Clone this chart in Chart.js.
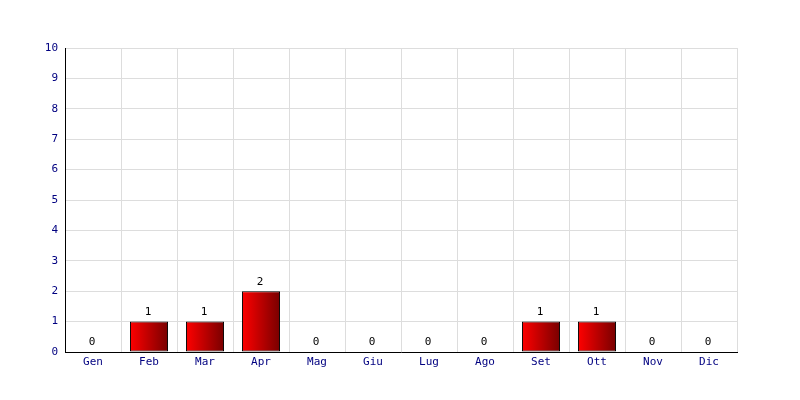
<!DOCTYPE html>
<html>
<head>
<meta charset="utf-8">
<script src="https://cdn.jsdelivr.net/npm/chart.js@4/dist/chart.umd.min.js"></script>
<style>
  html, body { margin: 0; padding: 0; background: #fff; }
  #wrap { width: 800px; height: 400px; }
</style>
</head>
<body>
<div id="wrap"><canvas id="chart" width="800" height="400"></canvas></div>
<script>
// dati del grafico
const mesi = ['Gen', 'Feb', 'Mar', 'Apr', 'Mag', 'Giu', 'Lug', 'Ago', 'Set', 'Ott', 'Nov', 'Dic'];
const valori = [0, 1, 1, 2, 0, 0, 0, 0, 1, 1, 0, 0];
const yMin = 0;
const yMax = 10;
const yStep = 1;

const FONT = '"DejaVu Sans Mono", monospace';
const BAR_PCT = 0.68;

// gradiente orizzontale per ogni barra, calcolato dalla scala x
function barGradient(context) {
    const chart = context.chart;
    const xScale = chart.scales.x;
    if (!xScale || context.dataIndex === undefined) return '#e00000';
    const cx = xScale.getPixelForValue(context.dataIndex);
    const half = (xScale.width / mesi.length) * BAR_PCT / 2;
    if (!Number.isFinite(cx) || !Number.isFinite(half) || half <= 0) return '#e00000';
    const g = chart.ctx.createLinearGradient(cx - half, 0, cx + half, 0);
    g.addColorStop(0, '#ff0000');
    g.addColorStop(1, '#780000');
    return g;
}

// etichette dei valori sopra le barre
const valueLabels = {
    id: 'valueLabels',
    afterDatasetsDraw(chart) {
        const ctx = chart.ctx;
        ctx.save();
        ctx.font = '11px ' + FONT;
        ctx.fillStyle = '#000';
        ctx.textAlign = 'center';
        ctx.textBaseline = 'bottom';
        chart.getDatasetMeta(0).data.forEach((bar, i) => {
            ctx.fillText(String(valori[i]), bar.x - 1, bar.y - 4);
        });
        ctx.restore();
    }
};

new Chart(document.getElementById('chart').getContext('2d'), {
    type: 'bar',
    data: {
        labels: mesi,
        datasets: [{
            data: valori,
            backgroundColor: barGradient,
            borderColor: '#000',
            borderWidth: 1,
            borderSkipped: false,
            barPercentage: BAR_PCT,
            categoryPercentage: 1
        }]
    },
    options: {
        responsive: false,
        animation: false,
        events: [],
        layout: { padding: { top: 48, right: 63, left: 0, bottom: 0 } },
        plugins: {
            legend: { display: false },
            tooltip: { enabled: false }
        },
        scales: {
            x: {
                grid: { color: '#dddddd', offset: true, drawTicks: false },
                border: { color: '#000', width: 1 },
                ticks: { color: '#000080', font: { family: FONT, size: 11 }, padding: 4, maxRotation: 0 },
                afterFit(scale) { scale.height = 48; }
            },
            y: {
                min: yMin,
                max: yMax,
                grid: { color: '#dddddd', drawTicks: false },
                border: { color: '#000', width: 1 },
                ticks: { stepSize: yStep, color: '#000080', font: { family: FONT, size: 11 }, padding: 7 },
                afterFit(scale) { scale.width = 65; }
            }
        }
    },
    plugins: [valueLabels]
});
</script>
</body>
</html>
